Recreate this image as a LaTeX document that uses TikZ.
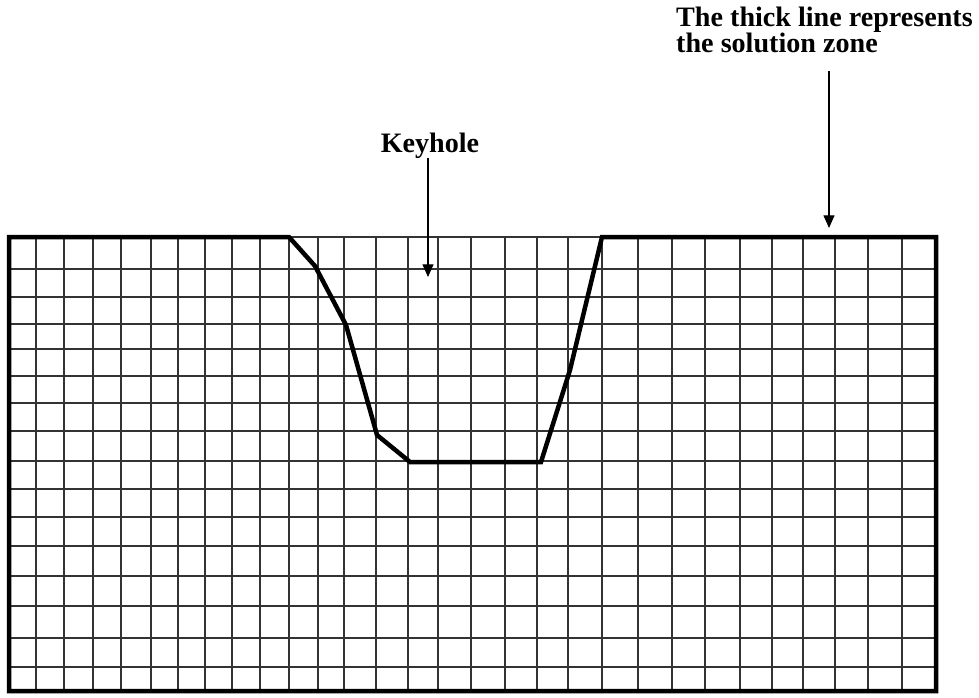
\documentclass[tikz,border=0pt]{standalone}
\usepackage{fontspec}
\setmainfont{Liberation Serif}
\usetikzlibrary{arrows.meta}

\begin{document}
\begin{tikzpicture}[x=0.3mm, y=-0.3mm,
    gridline/.style={line width=0.45mm, black!80},
    zone/.style={line width=1.35mm, line join=miter},
    pointer/.style={line width=0.35mm, -{Triangle[length=3.8mm, width=3.3mm]}},
    caption/.style={font=\bfseries\fontsize{24}{22}\selectfont, inner sep=0pt}]
    \useasboundingbox (0,0) rectangle (979,698);

    % Grid (hand ruled, columns get a bit wider to the right)
    \foreach \x in {36,64,93,121,151,178,205,232,260,289,318,344,376,408,438,471,505,537,568,602,638,672,705,740,772,803,835,868,902}
        \draw[gridline] (\x,237) -- (\x,691);
    \foreach \y in {269,297,324,349,376,403,431,461,489,517,546,576,606,638,667}
        \draw[gridline] (9,\y) -- (936,\y);
    % thin top line over the keyhole mouth
    \draw[gridline] (289,237) -- (602,237);

    % Solution zone (thick line)
    \draw[zone] (9,691) -- (9,237) -- (289,237) -- (315,266) -- (346,325) -- (377,435)
        -- (410,462) -- (541,462) -- (570,370) -- (602,237) -- (936,237) -- (936,691) -- cycle;

    % Labels
    \node[caption, anchor=base] (keyhole) at (430,152) {Keyhole};
    \node[caption, anchor=north west, align=left] (zonetext) at (676,7) {The thick line represents\\the solution zone};

    % Pointers
    \coordinate (keyholetip) at (428,277);
    \coordinate (zonetip) at (829,228);
    \draw[pointer] (keyholetip |- keyhole.south) -- (keyholetip);
    \draw[pointer, shorten <=5.5mm] (zonetip |- zonetext.south) -- (zonetip);
\end{tikzpicture}
\end{document}
